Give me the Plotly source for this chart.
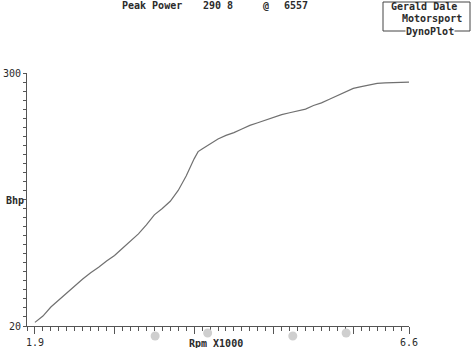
import plotly.graph_objects as go

# ---- data ----
rpm = [1.90, 2.00, 2.10, 2.20, 2.30, 2.40, 2.50, 2.60, 2.70, 2.80, 2.90, 3.00,
       3.10, 3.20, 3.30, 3.40, 3.50, 3.60, 3.70, 3.80, 3.90, 3.95, 4.00, 4.10,
       4.20, 4.30, 4.40, 4.50, 4.60, 4.70, 4.80, 4.90, 5.00, 5.10, 5.20, 5.30,
       5.40, 5.50, 5.60, 5.70, 5.80, 5.90, 6.00, 6.10, 6.20, 6.30, 6.40, 6.50, 6.60]
bhp = [24, 31, 41, 49, 56, 64, 72, 79, 85, 92, 98, 106,
       114, 122, 132, 143, 150, 158, 170, 186, 205, 213, 216, 222,
       227, 231, 234, 238, 242, 245, 248, 251, 254, 256, 258, 260,
       264, 267, 271, 275, 279, 283, 285, 287, 288.5, 289, 289.5, 290, 290]

x_range = [1.8, 6.6]
y_range = [20, 300]
x_tick_vals = [1.9, 6.6]
x_tick_text = ["1.9", "6.6"]
x_major_marks = [2.9, 3.9, 4.9, 5.9]
y_tick_vals = [20, 300]
y_tick_text = ["20", "300"]

peak_power = "290 8"
peak_rpm = "6557"

# scanned page holes below the axis
hole_rpm = [3.41, 4.07, 5.14, 5.81]
hole_bhp = [8.9, 12.3, 8.9, 12.3]

W, H = 473, 348
L, R, T, B = 27, 409, 73, 326

def px(x):
    return (x - L) / (R - L)

def py(y):
    return (B - y) / (B - T)

FONT = "DejaVu Sans Mono"
TXT = "#2b2b2b"
AX = "#555555"

fig = go.Figure()
fig.add_trace(go.Scatter(x=rpm, y=bhp, mode="lines",
                         line=dict(color="#707070", width=1.2),
                         showlegend=False, hoverinfo="skip"))
# overlay axis just for the longer major tick marks
fig.add_trace(go.Scatter(x=[x_range[0]], y=[y_range[0]], xaxis="x2", mode="markers",
                         marker=dict(opacity=0), showlegend=False, hoverinfo="skip"))

fig.update_layout(
    width=W, height=H,
    margin=dict(l=L, r=W - R, t=T, b=H - B, autoexpand=False),
    paper_bgcolor="white", plot_bgcolor="white",
    font=dict(family=FONT, size=10, color=TXT),
    xaxis=dict(range=x_range, showgrid=False, zeroline=False, automargin=False,
               showline=True, linecolor=AX, linewidth=1,
               tickmode="array", tickvals=x_tick_vals, ticktext=x_tick_text,
               ticks="outside", ticklen=7, tickcolor=AX, tickwidth=1,
               tickfont=dict(family=FONT, size=10, color=TXT),
               minor=dict(tickmode="linear", tick0=1.8, dtick=0.1,
                          ticks="outside", ticklen=4, tickcolor=AX, tickwidth=1)),
    xaxis2=dict(range=x_range, overlaying="x", side="bottom", showgrid=False,
                zeroline=False, showline=False, automargin=False, tickmode="array",
                tickvals=x_major_marks, ticktext=["" for _ in x_major_marks],
                ticks="outside", ticklen=7, tickcolor=AX, tickwidth=1),
    yaxis=dict(range=y_range, showgrid=False, zeroline=False, automargin=False,
               showline=True, linecolor=AX, linewidth=1,
               tickmode="array", tickvals=y_tick_vals, ticktext=y_tick_text,
               ticks="outside", ticklen=3, tickcolor=AX, tickwidth=1,
               tickfont=dict(family=FONT, size=10, color=TXT),
               minor=dict(tickmode="linear", tick0=20, dtick=10,
                          ticks="outside", ticklen=3, tickcolor=AX, tickwidth=1)),
)

# holes drawn as small circles, converted to paper coordinates (radius ~4.5px)
rxp = 4.5 / (R - L)
ryp = 4.5 / (B - T)
for hx, hy in zip(hole_rpm, hole_bhp):
    cx = (hx - x_range[0]) / (x_range[1] - x_range[0])
    cy = (hy - y_range[0]) / (y_range[1] - y_range[0])
    fig.add_shape(type="circle", xref="paper", yref="paper",
                  x0=cx - rxp, x1=cx + rxp, y0=cy - ryp, y1=cy + ryp,
                  line=dict(width=0), fillcolor="#cfcfcf", layer="above")

def note(text, x, y, xanchor="left", bg=None):
    fig.add_annotation(text=text, xref="paper", yref="paper", x=px(x), y=py(y),
                       xanchor=xanchor, yanchor="middle", showarrow=False,
                       font=dict(family=FONT, size=10, color=TXT),
                       bgcolor=bg, borderpad=0)

note("<b>Bhp</b>", 5, 200)
note("<b>Rpm X1000</b>", 188, 343)
note("<b>Peak Power</b>", 121, 5)
note("<b>" + peak_power + "</b>", 202, 5)
note("<b>@</b>", 262, 5)
note("<b>" + peak_rpm + "</b>", 283, 5)
note("<b>Gerald Dale</b>", 390, 7)
note("<b>Motorsport</b>", 401, 19)

fig.add_shape(type="rect", xref="paper", yref="paper",
              x0=px(383), x1=px(470), y0=py(31), y1=py(2),
              line=dict(color="#444444", width=1), fillcolor="white", layer="below")
note("<b>DynoPlot</b>", 405, 31, bg="white")

fig.write_html("out.html")
